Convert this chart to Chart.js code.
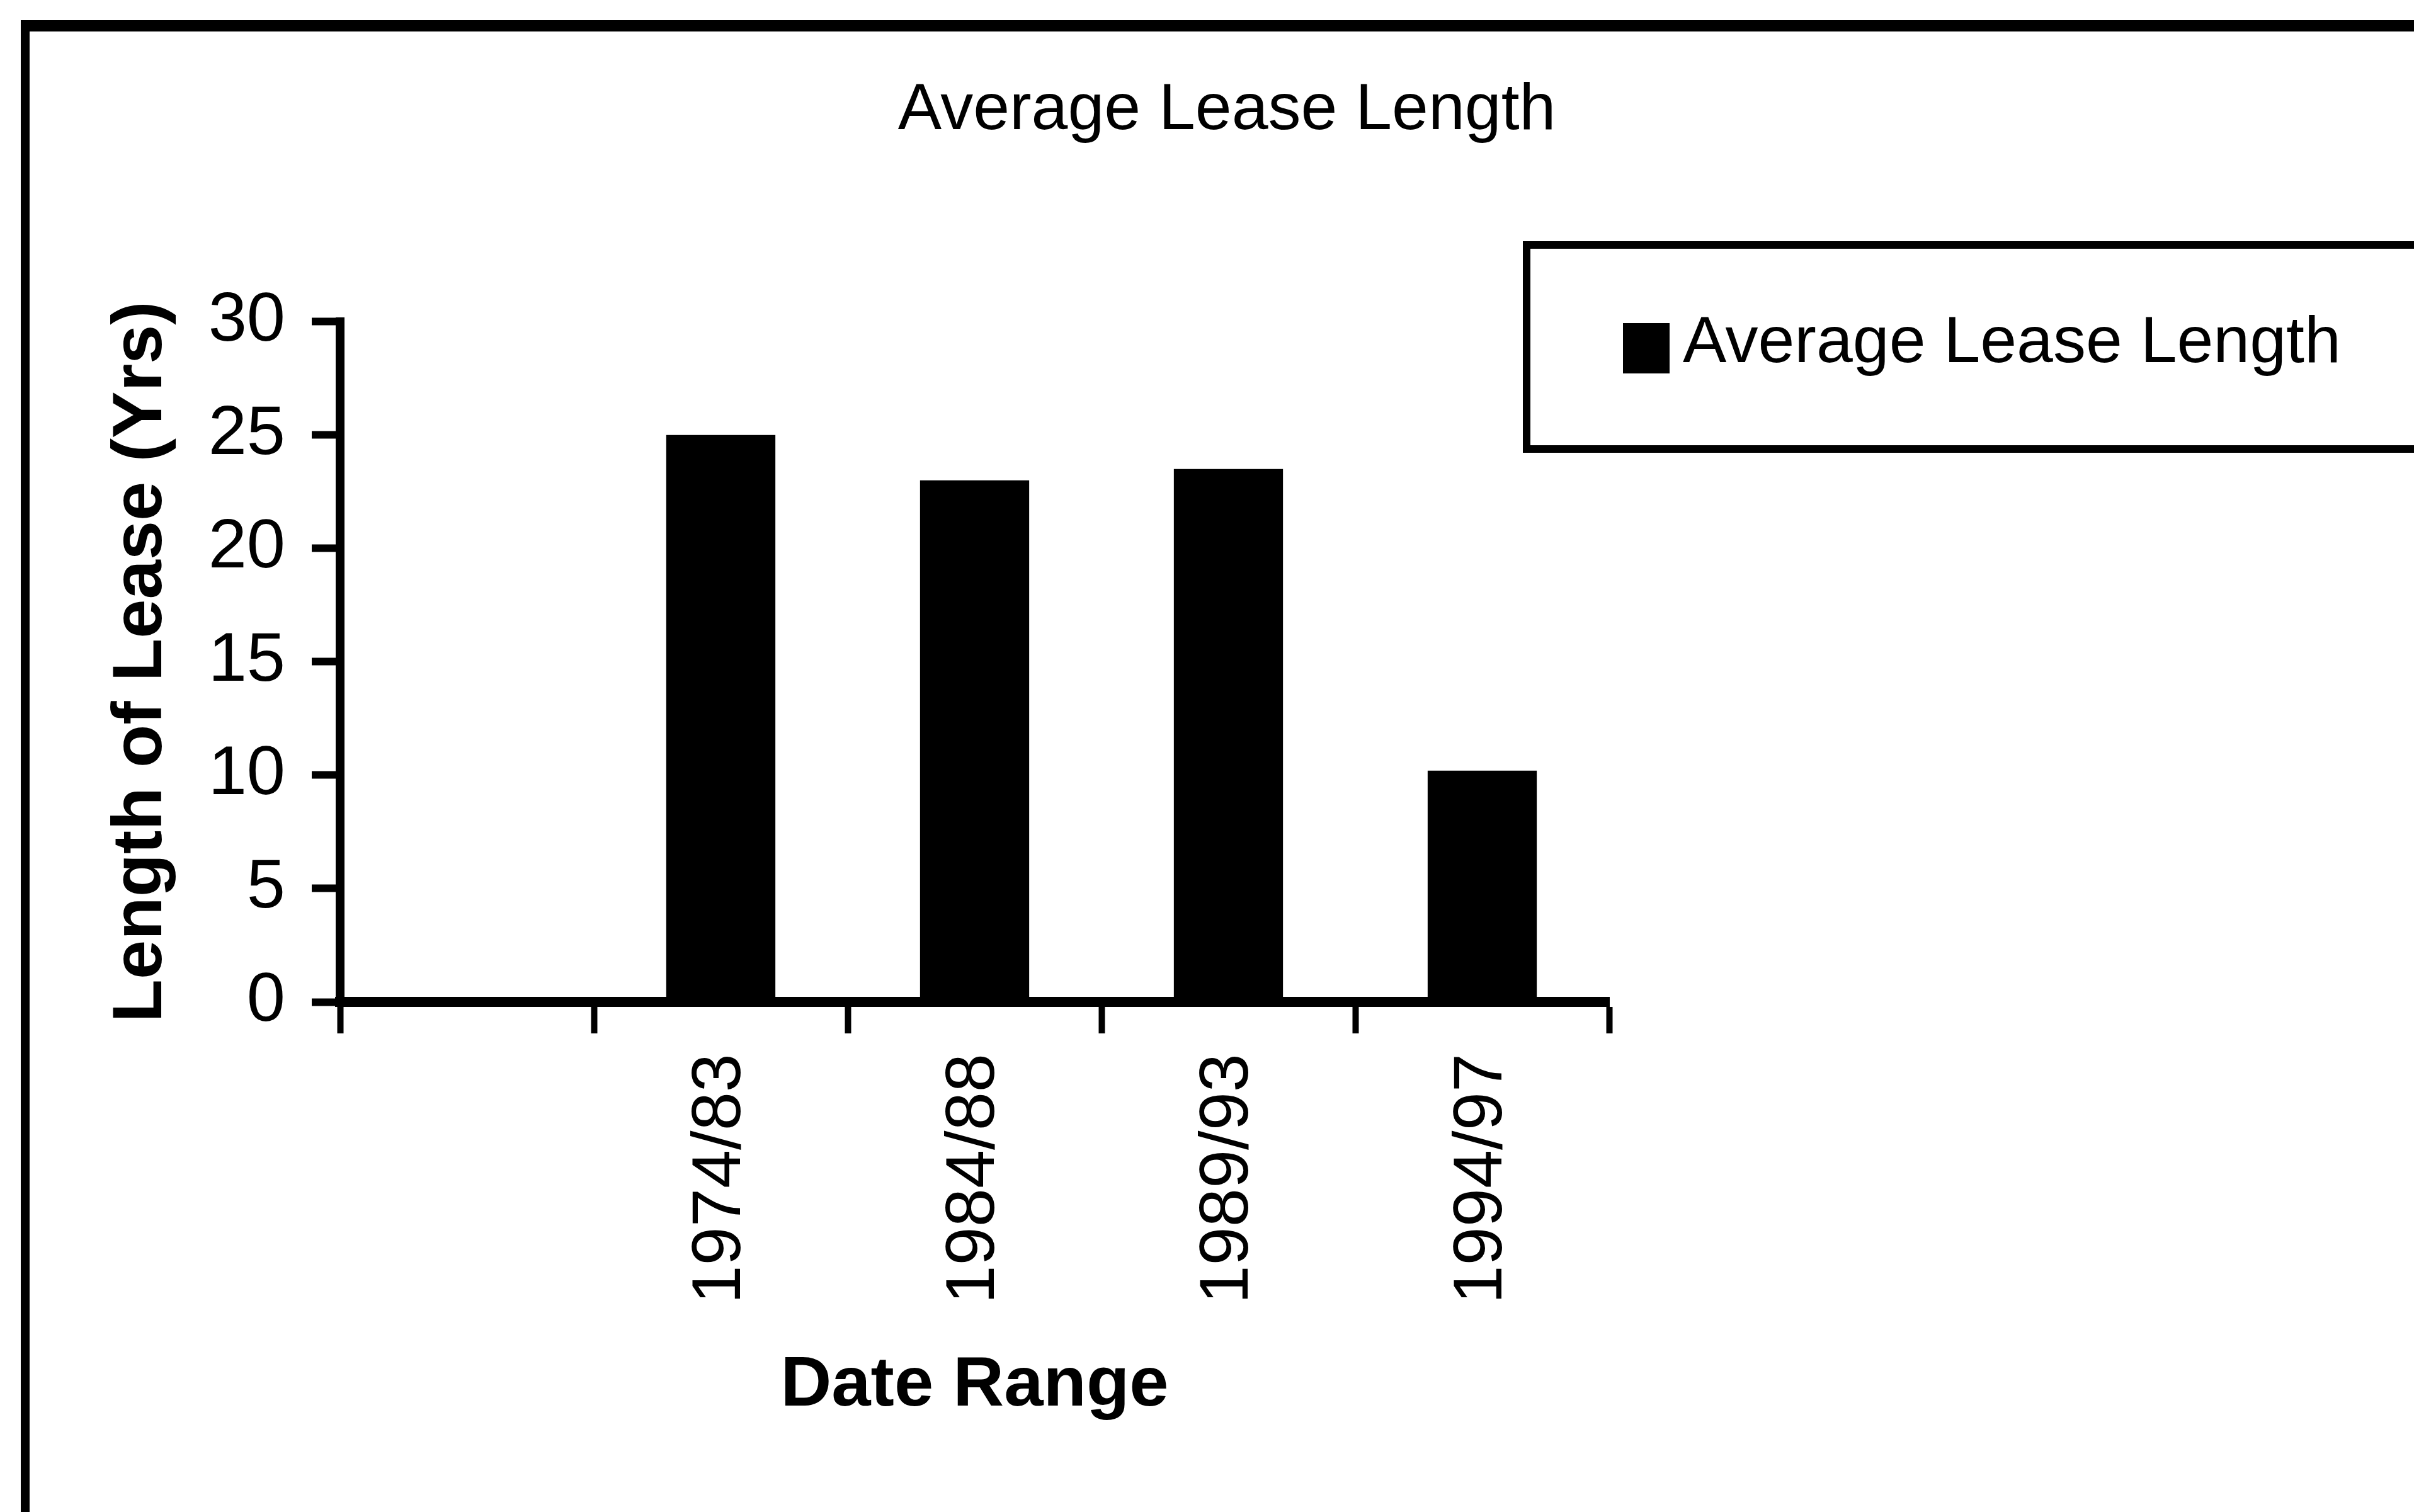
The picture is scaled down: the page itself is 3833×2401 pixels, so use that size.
<!DOCTYPE html>
<html>
<head>
<meta charset="utf-8">
<title>Average Lease Length</title>
<script src="https://cdn.jsdelivr.net/npm/chart.js@4.4.1/dist/chart.umd.min.js"></script>
<style>
  html, body { margin: 0; padding: 0; background: #fff; overflow: hidden; width: 3833px; height: 2401px; }
  #wrap { position: absolute; left: 0; top: 0; width: 3833px; height: 2401px; }
  #frame { position: absolute; left: 33px; top: 32px; width: 4000px; height: 3000px;
           border-left: 14px solid #000; border-top: 18px solid #000; pointer-events: none; }
  #legend { position: absolute; left: 2418px; top: 383px; width: 1700px; height: 336px; box-sizing: border-box;
            border: 12px solid #000; background: #fff; font-family: 'Liberation Sans', Arial, sans-serif; }
  #legend .sw { position: absolute; left: 147px; top: 118px; width: 74px; height: 80px; }
  #legend .tx { position: absolute; left: 242px; top: 92px; font-size: 104px; line-height: 1; white-space: nowrap; color: #000; }
</style>
</head>
<body>
<div id="wrap"><canvas id="c"></canvas></div>
<div id="frame"></div>
<div id="legend"><div class="sw"></div><div class="tx"></div></div>
<script>
// ---- data ----
const chartTitle = 'Average Lease Length';
const seriesName = 'Average Lease Length';
const categories = ['', '1974/83', '1984/88', '1989/93', '1994/97'];
const leaseLength = [0, 25, 23, 23.5, 10.2];
const yTickValues = [0, 5, 10, 15, 20, 25, 30];
const xAxisTitle = 'Date Range';
const yAxisTitle = 'Length of Lease (Yrs)';

const FONT = "'Liberation Sans', Arial, sans-serif";
const W = 3833, H = 2401;
const plotLeft = 540, plotRight = 2555, plotBottom = 1591;
const padLeft = 63;

Chart.defaults.font.family = FONT;
Chart.defaults.color = '#000';

const chart = new Chart(document.getElementById('c'), {
  type: 'bar',
  data: {
    labels: categories,
    datasets: [{
      label: seriesName,
      data: leaseLength,
      backgroundColor: '#000',
      borderWidth: 0,
      categoryPercentage: 1.0,
      barPercentage: 0.43
    }]
  },
  options: {
    responsive: true,
    maintainAspectRatio: false,
    animation: false,
    layout: { padding: { left: padLeft, right: 0, top: 0, bottom: 0 } },
    plugins: {
      legend: { display: false },
      tooltip: { enabled: false },
      title: {
        display: true,
        text: chartTitle,
        color: '#000',
        font: { size: 104, weight: 'normal', family: FONT, lineHeight: 1.2 },
        padding: { top: 114, bottom: 272 }
      }
    },
    scales: {
      x: {
        type: 'category',
        offset: true,
        grid: { display: true, offset: true, drawOnChartArea: false, drawTicks: true,
                tickLength: 50, tickWidth: 10, tickColor: '#000', color: '#000' },
        border: { display: true, color: '#000', width: 16 },
        ticks: { color: '#000', autoSkip: false, minRotation: 90, maxRotation: 90, padding: 32,
                 font: { size: 110, family: FONT } },
        title: { display: true, text: xAxisTitle, color: '#000',
                 font: { size: 112, weight: 'bold', family: FONT, lineHeight: 1.2 },
                 padding: { top: 0, bottom: 133 } },
        afterFit: s => { s.height = H - plotBottom; }
      },
      y: {
        type: 'linear',
        position: 'left',
        min: 0, max: 30,
        grid: { display: true, drawOnChartArea: false, drawTicks: true,
                tickLength: 45, tickWidth: 12, tickColor: '#000', color: '#000' },
        border: { display: true, color: '#000', width: 14 },
        ticks: { color: '#000', padding: 42, font: { size: 110, family: FONT } },
        afterBuildTicks: s => { s.ticks = yTickValues.map(v => ({ value: v })); },
        title: { display: true, text: yAxisTitle, color: '#000',
                 font: { size: 112, weight: 'bold', family: FONT, lineHeight: 1.2 },
                 padding: { top: 95, bottom: 0 } },
        afterFit: s => { s.width = plotLeft - padLeft; }
      },
      spacer: {
        type: 'linear',
        position: 'right',
        display: true,
        grid: { display: false },
        border: { display: false },
        ticks: { display: false },
        title: { display: false },
        afterFit: s => { s.width = W - plotRight; }
      }
    }
  }
});

// HTML legend built from the dataset
const ds = chart.data.datasets[0];
document.querySelector('#legend .sw').style.background = ds.backgroundColor;
document.querySelector('#legend .tx').textContent = ds.label;
</script>
</body>
</html>
